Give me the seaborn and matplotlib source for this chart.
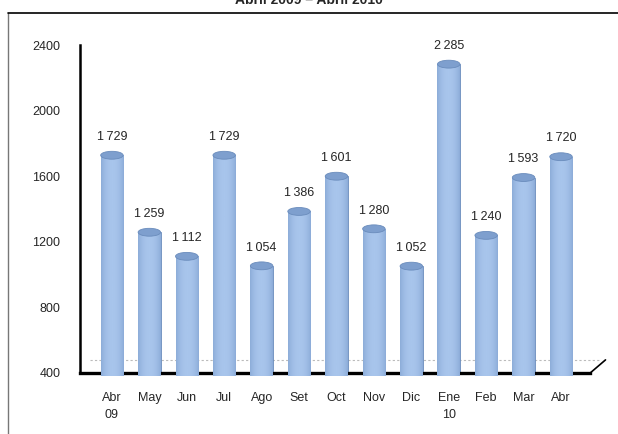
import numpy as np
import pandas as pd
import matplotlib
matplotlib.use("Agg")
import matplotlib.pyplot as plt
from matplotlib.patches import Ellipse
from matplotlib.lines import Line2D
import seaborn as sns

# Data
months = ["Abr\n09", "May", "Jun", "Jul", "Ago", "Set", "Oct", "Nov", "Dic",
          "Ene\n10", "Feb", "Mar", "Abr"]
values = [1729, 1259, 1112, 1729, 1054, 1386, 1601, 1280, 1052, 2285, 1240, 1593, 1720]
yticks = [400, 800, 1200, 1600, 2000, 2400]

df = pd.DataFrame({"mes": months, "valor": values})

sns.set_style("white")
plt.rcParams["font.family"] = ["Liberation Sans Narrow", "Liberation Sans", "DejaVu Sans"]

fig = plt.figure(figsize=(6.18, 4.34), dpi=100)
ax = fig.add_axes([0.129, 0.1406, 0.826, 0.755])

sns.barplot(data=df, x="mes", y="valor", color="#93B3DC", width=0.6,
            saturation=1, ax=ax, zorder=2)

ax.set_ylim(400, 2400)
ax.set_xlim(-0.86, 12.78)
ax.set_yticks(yticks)
ax.set_yticklabels([str(t) for t in yticks], fontsize=9)
ax.set_xlabel("")
ax.set_ylabel("")
ax.tick_params(axis="both", length=0)
ax.tick_params(axis="y", pad=14)
ax.tick_params(axis="x", pad=14, labelsize=9)
for lbl in ax.get_xticklabels():
    lbl.set_verticalalignment("top")
    lbl.set_linespacing(1.5)

for s in ["top", "right"]:
    ax.spines[s].set_visible(False)
ax.spines["left"].set_linewidth(1.8)
ax.spines["bottom"].set_linewidth(2.4)
ax.spines["left"].set_color("black")
ax.spines["bottom"].set_color("black")

# floor back edge + diagonal corner
ax.axhline(480, xmin=0.02, xmax=1.02, color="#BBBBBB", lw=0.8, ls=(0, (2, 2)),
           zorder=1, clip_on=False)
ax.add_line(Line2D([1.0, 1.03], [0.0, 0.04], transform=ax.transAxes,
                   color="black", lw=1.2, clip_on=False))

# cylinder shading
grad = np.linspace(0, 1, 64)
shade = 1 - 0.55 * (2 * grad - 1) ** 2
shade = shade ** 0.6
cmap = matplotlib.colors.LinearSegmentedColormap.from_list(
    "cyl", ["#5F84B8", "#A8C5EC"])
cap_h = 48
for p, v in zip(ax.patches, values):
    x0 = p.get_x()
    w = p.get_width()
    p.set_edgecolor("#6A8CBC")
    p.set_linewidth(0.6)
    im = ax.imshow(shade[np.newaxis, :], cmap=cmap, aspect="auto",
                   extent=[x0, x0 + w, 380, v], zorder=3, vmin=0, vmax=1)
    im.set_clip_path(p)
    ax.add_patch(Ellipse((x0 + w / 2, v), w, cap_h, facecolor="#7E9FCE",
                         edgecolor="#6A8CBC", lw=0.6, zorder=4))
    ax.text(x0 + w / 2, v + 75, f"{v // 1000}\u2009{v % 1000:03d}",
            ha="center", va="bottom", fontsize=9, zorder=5)

ax.set_ylim(400, 2400)
ax.set_xlim(-0.86, 12.78)

# outer frame and clipped title
fig.add_artist(Line2D([8 / 618, 8 / 618], [0, 1 - 13 / 434], transform=fig.transFigure,
                      color="#777777", lw=1.0))
fig.add_artist(Line2D([8 / 618, 1], [1 - 13 / 434, 1 - 13 / 434], transform=fig.transFigure,
                      color="black", lw=1.2))
fig.text(0.5, 1.0, "Abril 2009 \u2013 Abril 2010", ha="center", va="center",
         fontsize=10, fontweight="bold", family=["Liberation Sans", "DejaVu Sans"])

fig.savefig("out.png", dpi=100)
